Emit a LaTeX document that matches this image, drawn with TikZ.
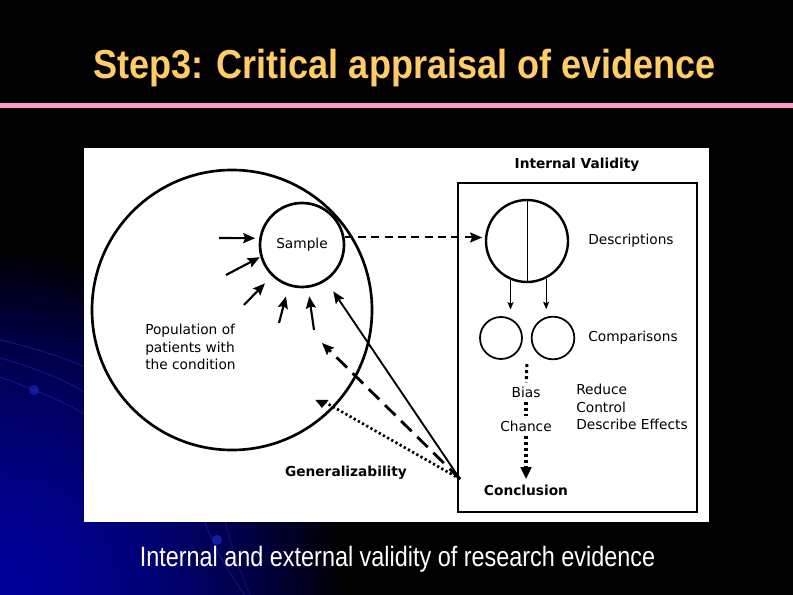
\documentclass[tikz,border=0pt]{standalone}
\usepackage{fontspec}
\setmainfont{Liberation Sans}
\newfontfamily\diagfont{DejaVu Sans}
\usetikzlibrary{arrows.meta,calc,shapes.geometric}
\definecolor{titleyellow}{RGB}{255,204,102}
\definecolor{rulepink}{RGB}{255,153,204}
\definecolor{bgblue}{RGB}{0,0,215}
\definecolor{streak}{RGB}{30,40,200}

\tikzset{
  lbl/.style={font=\diagfont\fontsize{10.3}{13.1}\selectfont, inner sep=0.75pt, text=black},
  boldlbl/.style={lbl, font=\diagfont\bfseries\fontsize{10.3}{13.1}\selectfont},
  bigtip/.style={-{Stealth[length=9pt,width=7.5pt,inset=1.5pt]}},
  thintip/.style={-{Stealth[length=5.5pt,width=4.5pt,inset=1pt]}},
  ring/.style={circle, draw, inner sep=0pt},
  dotline/.style={line width=2.3pt, dash pattern=on 2.3pt off 2.2pt},
}

\begin{document}
\begin{tikzpicture}[x=0.75pt,y=0.75pt,yscale=-1,xscale=1]
\useasboundingbox (0,0) rectangle (793,595);

%Background
\fill[black] (0,0) rectangle (793,595);
\begin{scope}
  \clip (0,0) rectangle (793,595);
  % blue glow in the lower left corner
  \foreach \r in {340,330,...,20}
    \fill[bgblue, opacity=0.045] (0,595) circle (\r);
  %Streaks
  \draw[streak, line width=0.8pt, opacity=0.45] (0,340) .. controls (35,348) and (65,358) .. (84,367);
  \draw[streak, line width=0.8pt, opacity=0.45] (0,358) .. controls (35,368) and (65,380) .. (84,392);
  \draw[streak, line width=0.8pt, opacity=0.45] (0,377) .. controls (35,390) and (65,402) .. (84,414);
  \fill[streak, opacity=0.6] (34,390) circle (5);
  \draw[streak, line width=0.8pt, opacity=0.45] (205,522) .. controls (215,550) and (230,575) .. (245,595);
  \draw[streak, line width=0.8pt, opacity=0.35] (225,522) .. controls (232,548) and (240,572) .. (250,595);
  \fill[streak, opacity=0.7] (217,540) circle (5);
\end{scope}

%Title and rule
\node[anchor=base, text=titleyellow, font=\bfseries\fontsize{30.4}{36}\selectfont, xscale=0.89, inner sep=0pt] (title) at (404.5,78.5) {Step3: Critical appraisal of evidence};
\fill[rulepink] (0,103) rectangle (793,108);

%Panel
\fill[white] (84,148) rectangle (709,522);

%Shape: Population circle
\node[ring, line width=2pt, minimum size=210pt] (pop) at (232,310) {};
%Shape: Sample circle
\node[ring, line width=2pt, minimum size=63pt, lbl] (sample) at (302,245) {Sample};
%Shape: Internal validity box
\node[draw, line width=2pt, minimum width=179.25pt, minimum height=246.75pt, inner sep=0pt] (ivbox) at (577.5,347.5) {};
%Shape: Descriptions circle
\node[ring, line width=1.8pt, minimum size=61.5pt] (desc) at (527,241) {};
\draw[line width=0.7pt] (desc.north) -- (desc.south);
%Shape: Comparison circles
\node[ring, line width=1.3pt, minimum size=31.5pt] (cmpL) at (501,338) {};
\node[ring, line width=1.3pt, minimum size=32pt] (cmpR) at (553,338) {};

% Text Node
\node[boldlbl] (ivtitle) at (577,165) {Internal Validity};
% Text Node
\node[lbl, anchor=west] (desclbl) at (587,241) {Descriptions};
% Text Node
\node[lbl, anchor=west] (cmplbl) at (587,338) {Comparisons};
% Text Node
\node[lbl, inner sep=3pt] (bias) at (526,392) {Bias};
% Text Node
\node[lbl, inner sep=3pt] (chance) at (526,426) {Chance};
% Text Node
\node[boldlbl, inner sep=3pt] (concl) at (526,490) {Conclusion};
% Text Node
\node[lbl, anchor=west, align=left] (actions) at (575,407) {Reduce\\Control\\Describe Effects};
% Text Node
\node[lbl, anchor=west, align=left] (poplbl) at (144,347) {Population of\\patients with\\the condition};
% Text Node
\node[boldlbl] (genlbl) at (346,473) {Generalizability};

%Arrows into the sample
\foreach \sx/\sy/\ang/\gap [count=\i] in {219/238/171/3, 226/275/196/0.5, 244/305/226/7.5, 279/323/252/7.9, 314/330/278/6.4} {
  \coordinate (in\i) at (\sx,\sy);
  \draw[bigtip, line width=1.6pt, shorten >=\gap pt] (in\i) -- (sample.\ang);
}

%Sample to descriptions
\draw[bigtip, line width=1.5pt, dash pattern=on 6pt off 4pt, shorten >=2pt] (sample.10) -- (sample.10 -| desc.west);

%Descriptions to comparisons
\draw[thintip, line width=0.7pt, shorten >=5pt] (desc.247) -- (desc.247 |- cmpL.north);
\draw[thintip, line width=0.7pt, shorten >=5pt] (desc.297.6) -- (desc.297.6 |- cmpR.north);

%Bias and chance chain
\coordinate (chain) at ($(cmpL.south)!0.5!(cmpR.south)$);
\draw[dotline, shorten <=3pt] (chain) -- (bias);
\draw[dotline] (bias) -- (chance);
\draw[dotline, -{Triangle[length=9pt,width=8pt]}, shorten >=1pt] (chance) -- (concl);

%Back from the conclusion
\coordinate (conv) at (460,479);
\coordinate (dtip) at (322,343);
\node[isosceles triangle, shape border rotate=270, fill, inner sep=0pt, minimum width=8pt, minimum height=6pt, isosceles triangle apex angle=80] (ptri) at (322,403) {};
\draw[bigtip, line width=1.4pt, shorten >=9.5pt] (conv) -- (sample.304.6);
\draw[bigtip, line width=2.1pt, dash pattern=on 11pt off 6pt] (conv) -- (dtip);
\draw[line width=2pt, dash pattern=on 1.7pt off 1.9pt] (conv) -- (ptri.east);

%Caption
\node[anchor=base, text=white, font=\fontsize{21}{25}\selectfont, xscale=0.836, inner sep=0pt] (caption) at (397.5,566.5) {Internal and external validity of research evidence};
\end{tikzpicture}
\end{document}
